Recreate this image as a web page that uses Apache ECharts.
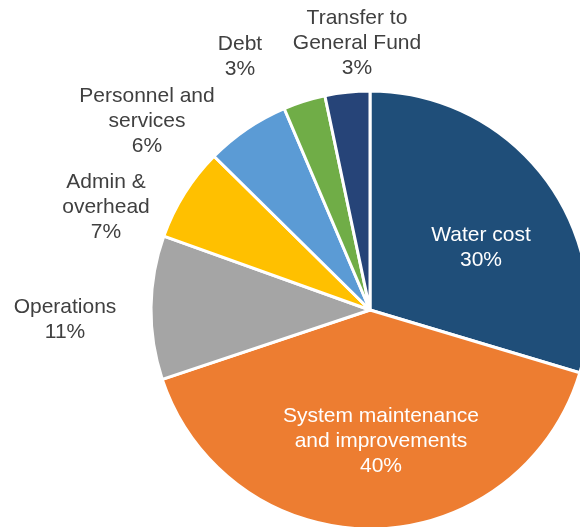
<!DOCTYPE html>
<html>
<head>
<meta charset="utf-8">
<script src="https://cdn.jsdelivr.net/npm/echarts@6/dist/echarts.min.js"></script>
<style>html,body{margin:0;padding:0;background:#fff;}#c{width:580px;height:527px;}</style>
</head>
<body>
<div id="c"></div>
<script>
var categories = ['Water cost', 'System maintenance\nand improvements', 'Operations', 'Admin &\noverhead', 'Personnel and\nservices', 'Debt', 'Transfer to\nGeneral Fund'];
var values = [29.6, 40.2, 10.6, 6.9, 6.2, 3.1, 3.3];
var colors = ['#1F4E79', '#ED7D31', '#A5A5A5', '#FFC000', '#5B9BD5', '#70AD47', '#264478'];
var insideLabel = [true, true, false, false, false, false, false];

var labelPos = [[481, 248], [381, 441], [65, 320], [106, 207], [147, 121], [240, 57], [357, 43]];

var chart = echarts.init(document.getElementById('c'), null, {renderer: 'canvas'});
var data = categories.map(function (c, i) {
  return {
    name: c,
    value: values[i],
    itemStyle: {color: colors[i]},
    label: {color: insideLabel[i] ? '#ffffff' : '#404040'}
  };
});
chart.setOption({
  animation: false,
  series: [{
    type: 'pie',
    center: [370, 310],
    radius: [0, 219],
    startAngle: 90,
    clockwise: true,
    data: data,
    itemStyle: {borderColor: '#ffffff', borderWidth: 3},
    label: {
      show: true,
      position: 'inside',
      overflow: 'none',
      fontFamily: 'Liberation Sans, Arial, sans-serif',
      fontSize: 21,
      lineHeight: 25,
      align: 'center',
      formatter: function (p) { return p.name + '\n' + Math.round(p.percent) + '%'; }
    },
    labelLine: {show: false},
    labelLayout: function (p) {
      var pos = labelPos[p.dataIndex];
      return {x: pos[0], y: pos[1], align: 'center', verticalAlign: 'middle', hideOverlap: false};
    }
  }]
});
</script>
</body>
</html>
